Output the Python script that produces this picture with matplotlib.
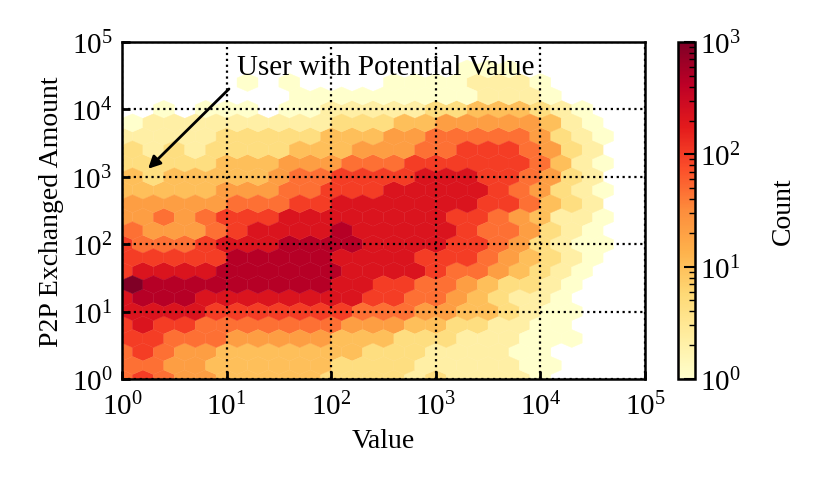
import numpy as np
import matplotlib
matplotlib.use("Agg")
import matplotlib.pyplot as plt
from matplotlib.colors import LogNorm

plt.rcParams['font.family'] = 'serif'
plt.rcParams['font.serif'] = ['Liberation Serif', 'DejaVu Serif']
plt.rcParams['mathtext.fontset'] = 'cm'

# densidade: uma linha por faixa de 0.2 decada em y (de baixo para cima),
# um caractere por coluna de 0.2 decada em x; digito d -> contagem 10**(d/3), '.' = vazio
# linhas impares ficam deslocadas 0.1 decada em x (malha hexagonal)
log_y_rows = np.arange(0, 4.7, 0.2)
density_rows = [
    "565443333322221211110...",  # y = 0.0
    "554433333322221111100...",  # 0.2
    "565443333333222111100...",  # 0.4
    "6655544444333222111000..",  # 0.6
    "6766555555544433221100..",  # 0.8
    "7777666666655544332100..",  # 1.0
    "7888777777776655432110..",  # 1.2
    "9888888888776655432210..",  # 1.4
    "67777888888777765543210.",  # 1.6
    "66666888887777666543210.",  # 1.8
    "655567778888777766542100",  # 2.0
    "54445677778777776554210.",  # 2.2
    "445456667777777766543110",  # 2.4
    "44444555667777777665321.",  # 2.6
    "333334445566677777654210",  # 2.8
    "32333334556666777665421.",  # 3.0
    "222223334445556666665310",  # 3.2
    "21212222333444556665421.",  # 3.4
    "111112222233344555554210",  # 3.6
    "01111111112223344444310.",  # 3.8
    "..0.000.001111122333210.",  # 4.0
    "........0000000001110...",  # 4.2
    "......0.0....00001110...",  # 4.4
    "................000.....",  # 4.6
]
log_x_step = 0.2

# monta os pontos (valor, montante, contagem)
xs, ys, cs = [], [], []
for r, (ly, row) in enumerate(zip(log_y_rows, density_rows)):
    row = row.ljust(24, '.')[:24]
    for c, ch in enumerate(row):
        if ch == '.':
            continue
        lx = c * log_x_step + (log_x_step / 2 if r % 2 else 0.0)
        xs.append(10 ** lx)
        ys.append(10 ** ly)
        cs.append(10 ** (int(ch) / 3.0))
xs = np.array(xs)
ys = np.array(ys)
cs = np.array(cs)

fig = plt.figure(figsize=(8.3, 4.89), dpi=100)
ax = fig.add_axes([0.147, 0.223, 0.630, 0.689])
cax = fig.add_axes([0.817, 0.223, 0.020, 0.689])

hb = ax.hexbin(xs, ys, C=cs, reduce_C_function=np.sum,
               gridsize=(23, 12), extent=(0, 4.6, 0, 4.8),
               xscale='log', yscale='log', cmap='YlOrRd',
               norm=LogNorm(vmin=1, vmax=1000), linewidths=0.3)

ax.set_xlim(1, 1e5)
ax.set_ylim(1, 1e5)
ax.set_xticks([1, 1e1, 1e2, 1e3, 1e4, 1e5])
ax.set_yticks([1, 1e1, 1e2, 1e3, 1e4, 1e5])
ax.minorticks_off()
ax.tick_params(direction='in', length=6, width=2, labelsize=21)
ax.tick_params(axis='x', pad=9)
ax.tick_params(axis='y', pad=7)
for s in ax.spines.values():
    s.set_linewidth(1.8)
ax.set_axisbelow(False)
ax.grid(True, linestyle=':', color='k', linewidth=1.6)

ax.set_xlabel("Value", fontsize=20, labelpad=6)
ax.set_ylabel("P2P Exchanged Amount", fontsize=20, labelpad=5)

ax.text(12.6, 4.3e4, "User with Potential Value", fontsize=21, va='center', ha='left')
ax.annotate("", xy=(1.7, 1230), xytext=(11, 21500),
            arrowprops=dict(arrowstyle='-|>', color='k', lw=2, mutation_scale=18))

cb = fig.colorbar(hb, cax=cax)
cb.set_label("Count", fontsize=20, labelpad=22)
cb.outline.set_linewidth(1.8)
cax.tick_params(which='major', direction='in', length=8, width=1.5, labelsize=21)
cax.tick_params(which='minor', direction='in', length=4, width=1)

fig.savefig("out.png", dpi=100)
